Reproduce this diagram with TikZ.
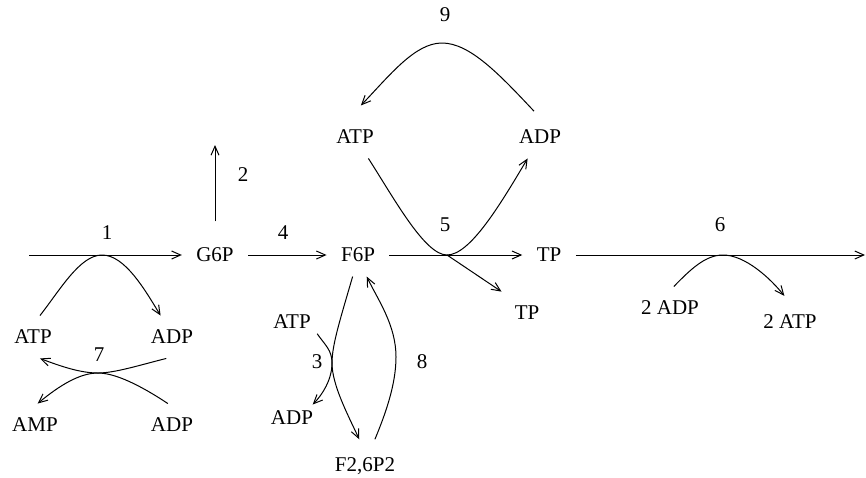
\documentclass[tikz,border=0pt]{standalone}
\usepackage{fontspec}
\setmainfont{Liberation Serif}
\usetikzlibrary{arrows.meta}

\begin{document}
\begin{tikzpicture}[x=0.5pt,y=-0.5pt,font=\fontsize{10.5}{12.6}\selectfont,
  line width=0.5pt,>={Straight Barb[length=4.5pt,width=4pt]},
  met/.style={inner sep=7pt},side/.style={inner sep=3pt}]

\useasboundingbox (0,0) rectangle (866,477);

\node[met] (g6p) at (215, 255) {G6P};
\node[met] (f6p) at (358, 255) {F6P};
\node[met] (tp) at (549, 255) {TP};
\node[met] (tpB) at (527, 313) {TP};
\node[met] (atpB) at (355, 137) {ATP};
\node[met] (adpC) at (540, 137) {ADP};
\node[met] (atpA) at (33, 337) {ATP};
\node[met] (adpA) at (172, 337) {ADP};
\node[met] (ampA) at (35, 425) {AMP};
\node[met] (adpB) at (172, 425) {ADP};
\node[side] (atpC) at (292, 322) {ATP};
\node[side] (adpD) at (292, 418) {ADP};
\node[met] (f26) at (365, 466) {F2,6P2};
\node[met] (adp2) at (670, 308) {2 ADP};
\node[met] (atp2) at (790, 322) {2 ATP};

\coordinate (in1) at (29, 255);
\coordinate (out2) at (215, 145);
\coordinate (out6) at (865, 255);
\coordinate (r1) at (102, 255);
\coordinate (r3) at (332, 363);
\coordinate (r5) at (447, 255);
\coordinate (r6) at (723, 255);
\coordinate (r7) at (98, 373);
\coordinate (r8) at (396, 357);
\coordinate (r9) at (442, 43);

\draw[->] (in1) -- (g6p);
\draw[->, shorten <=6pt] (g6p) -- (out2);
\draw[->] (g6p) -- (f6p);
\draw[->] (f6p) -- (tp);
\draw[->] (tp) -- (out6);

\draw[->] (atpA.72) .. controls (60, 290) and (80, 255) .. (r1)
  .. controls (125, 255) and (145, 290) .. (adpA.118);
\draw[->] (adpA.255) .. controls (140, 365) and (115, 373) .. (r7)
  .. controls (80, 373) and (60, 366) .. (atpA.-72);
\draw[->] (adpB.101) .. controls (140, 385) and (115, 373) .. (r7)
  .. controls (80, 373) and (60, 385) .. (ampA.83);

\draw[->] (atpB.-58) .. controls (395, 200) and (425, 255) .. (r5)
  .. controls (470, 255) and (500, 205) .. (adpC.-120);
\draw[->] (r5) -- (tpB.140);
\draw[->, shorten <=3pt, shorten >=7pt] (adpC.95) .. controls (500, 75) and (470, 43) .. (r9)
  .. controls (415, 43) and (390, 75) .. (atpB.100);

\draw[->, shorten >=2pt] (f6p.-104) .. controls (340, 320) and (332, 345) .. (r3)
  .. controls (332, 385) and (348, 415) .. (f26.100);
\draw[->, shorten <=2pt] (f26.70) .. controls (385, 415) and (396, 385) .. (r8)
  .. controls (396, 325) and (378, 300) .. (f6p.-68);
\draw[->] (atpC.-25) .. controls (325, 345) and (332, 350) .. (r3)
  .. controls (332, 380) and (322, 395) .. (adpD.33);

\draw[->, shorten >=3pt] (adp2.80) .. controls (690, 270) and (705, 255) .. (r6)
  .. controls (745, 255) and (770, 278) .. (atp2.95);

\node (l1) at (107, 233) {1};
\node (l2) at (243, 175) {2};
\node (l3) at (317, 362) {3};
\node (l4) at (283, 233) {4};
\node (l5) at (445, 225) {5};
\node (l6) at (720, 225) {6};
\node (l7) at (99, 355) {7};
\node (l8) at (422, 362) {8};
\node (l9) at (445, 15) {9};

\end{tikzpicture}
\end{document}
